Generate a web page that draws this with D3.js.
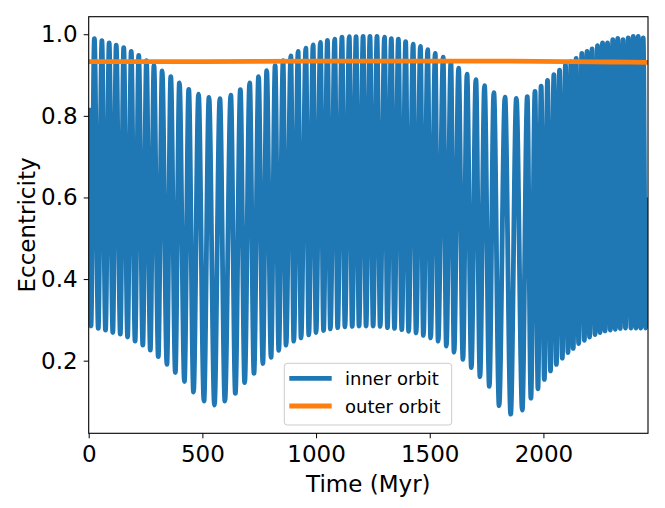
<!DOCTYPE html>
<html>
<head>
<meta charset="utf-8">
<script src="https://cdn.jsdelivr.net/npm/d3@7"></script>
<style>
  html, body { margin: 0; padding: 0; background: #fff; }
  svg { display: block; font-family: "DejaVu Sans", sans-serif; }
</style>
</head>
<body>
<div id="chart"></div>
<script>
// ═══════════════════════════════════════════════════════════
// DATA (Myr / eccentricity)
// ═══════════════════════════════════════════════════════════
const innerStart = [0, 0.82];
const innerEnd   = [2460, 0.60];

const peakTimes = [
  25, 58, 90, 121, 154, 187, 220, 254, 287, 323,
  361, 399, 440, 483, 529, 577, 625, 667, 708, 747,
  783, 820, 855, 889, 921, 955, 987, 1019, 1050, 1082,
  1114, 1146, 1176, 1207, 1237, 1268, 1301, 1331, 1362, 1394,
  1427, 1459, 1491, 1524, 1559, 1593, 1627, 1664, 1703, 1741,
  1782, 1831, 1881, 1929, 1963, 1990, 2018, 2046, 2071, 2097,
  2121, 2144, 2169, 2192, 2214, 2238, 2260, 2282, 2305, 2327,
  2350, 2373, 2395, 2417, 2439
];
const peakValues = [
  0.989, 0.984, 0.979, 0.973, 0.967, 0.958, 0.948, 0.935, 0.923, 0.910,
  0.896, 0.881, 0.865, 0.853, 0.845, 0.842, 0.851, 0.864, 0.881, 0.896,
  0.911, 0.923, 0.935, 0.947, 0.958, 0.966, 0.974, 0.980, 0.985, 0.988,
  0.993, 0.994, 0.994, 0.995, 0.995, 0.995, 0.993, 0.989, 0.988, 0.982,
  0.976, 0.970, 0.962, 0.953, 0.944, 0.932, 0.917, 0.902, 0.889, 0.874,
  0.857, 0.846, 0.843, 0.847, 0.860, 0.873, 0.887, 0.901, 0.912, 0.925,
  0.933, 0.941, 0.953, 0.958, 0.964, 0.972, 0.979, 0.979, 0.987, 0.990,
  0.987, 0.991, 0.995, 0.995, 0.991
];

const troughTimes = [
  10, 42, 74, 106, 139, 171, 204, 238, 271, 306,
  344, 381, 421, 461, 507, 553, 599, 645, 686, 727,
  766, 802, 836, 868, 902, 934, 968, 1000, 1033, 1063,
  1095, 1127, 1159, 1189, 1220, 1251, 1282, 1314, 1345, 1377,
  1407, 1440, 1472, 1504, 1537, 1573, 1607, 1646, 1683, 1721,
  1762, 1805, 1856, 1907, 1945, 1976, 2004, 2031, 2057, 2083,
  2108, 2131, 2155, 2180, 2203, 2227, 2249, 2271, 2294, 2316,
  2338, 2361, 2385, 2407, 2428, 2450
];
const troughValues = [
  0.285, 0.279, 0.275, 0.269, 0.265, 0.258, 0.248, 0.238, 0.226, 0.210,
  0.191, 0.171, 0.149, 0.123, 0.101, 0.091, 0.101, 0.120, 0.146, 0.169,
  0.193, 0.208, 0.225, 0.238, 0.248, 0.256, 0.263, 0.269, 0.274, 0.278,
  0.281, 0.283, 0.284, 0.285, 0.285, 0.285, 0.284, 0.281, 0.279, 0.276,
  0.272, 0.268, 0.262, 0.256, 0.248, 0.236, 0.221, 0.203, 0.183, 0.161,
  0.137, 0.090, 0.069, 0.079, 0.108, 0.131, 0.154, 0.175, 0.191, 0.206,
  0.220, 0.230, 0.242, 0.250, 0.258, 0.264, 0.269, 0.273, 0.275, 0.277,
  0.279, 0.280, 0.280, 0.280, 0.280, 0.280
];

const outerTimes  = [0, 500, 1000, 1500, 1800, 2100, 2300, 2460];
const outerValues = [0.933, 0.933, 0.934, 0.934, 0.934, 0.933, 0.932, 0.931];

const xTicks = [0, 500, 1000, 1500, 2000];
const yTicks = [0.2, 0.4, 0.6, 0.8, 1.0];

const seriesNames  = ['inner orbit', 'outer orbit'];
const seriesColors = ['#1f77b4', '#ff7f0e'];

// ═══════════════════════════════════════════════════════════
// LAYOUT
// ═══════════════════════════════════════════════════════════
const width  = 665;
const height = 508;
const plot   = { left: 88.7, right: 648, top: 16.7, bottom: 433.3 };

const x = d3.scaleLinear().domain([0, 2460]).range([plot.left, plot.right]);
const y = d3.scaleLinear().domain([0.022, 1.043]).range([plot.bottom, plot.top]);

// merge extrema into one time-ordered series
const innerSeries = [innerStart]
  .concat(peakTimes.map((t, i) => [t, peakValues[i]]))
  .concat(troughTimes.map((t, i) => [t, troughValues[i]]))
  .concat([innerEnd])
  .sort((a, b) => a[0] - b[0]);
const outerSeries = outerTimes.map((t, i) => [t, outerValues[i]]);

const svg = d3.select('#chart')
  .append('svg')
  .attr('width', width)
  .attr('height', height);

svg.append('defs').append('clipPath')
  .attr('id', 'plot-clip')
  .append('rect')
  .attr('x', plot.left)
  .attr('y', plot.top)
  .attr('width', plot.right - plot.left)
  .attr('height', plot.bottom - plot.top);

// ═══════════════════════════════════════════════════════════
// LINES
// ═══════════════════════════════════════════════════════════
const line = d3.line()
  .x(d => x(d[0]))
  .y(d => y(d[1]))
  .curve(d3.curveMonotoneX);

const lines = svg.append('g').attr('clip-path', 'url(#plot-clip)');

lines.append('path')
  .datum(innerSeries)
  .attr('d', line)
  .attr('fill', 'none')
  .attr('stroke', seriesColors[0])
  .attr('stroke-width', 4.8)
  .attr('stroke-linejoin', 'round')
  .attr('stroke-linecap', 'butt');

lines.append('path')
  .datum(outerSeries)
  .attr('d', line)
  .attr('fill', 'none')
  .attr('stroke', seriesColors[1])
  .attr('stroke-width', 4.8);

// ═══════════════════════════════════════════════════════════
// AXES
// ═══════════════════════════════════════════════════════════
const xAxis = svg.append('g')
  .attr('transform', `translate(0,${plot.bottom})`)
  .call(d3.axisBottom(x).tickValues(xTicks).tickFormat(d3.format('d')).tickSize(5).tickPadding(7.5));

const yAxis = svg.append('g')
  .attr('transform', `translate(${plot.left},0)`)
  .call(d3.axisLeft(y).tickValues(yTicks).tickFormat(d3.format('.1f')).tickSize(5).tickPadding(6));

[xAxis, yAxis].forEach(ax => {
  ax.select('.domain').remove();
  ax.selectAll('line').attr('stroke', '#000').attr('stroke-width', 1);
  ax.selectAll('text')
    .attr('fill', '#000')
    .style('font-size', '23px')
    .style('font-family', '"DejaVu Sans", sans-serif');
});

// frame
svg.append('rect')
  .attr('x', plot.left)
  .attr('y', plot.top)
  .attr('width', plot.right - plot.left)
  .attr('height', plot.bottom - plot.top)
  .attr('fill', 'none')
  .attr('stroke', '#000')
  .attr('stroke-width', 1.1);

svg.append('text')
  .attr('x', (plot.left + plot.right) / 2)
  .attr('y', 491.8)
  .attr('text-anchor', 'middle')
  .style('font-size', '23px')
  .text('Time (Myr)');

svg.append('text')
  .attr('transform', `translate(35,${(plot.top + plot.bottom) / 2}) rotate(-90)`)
  .attr('text-anchor', 'middle')
  .style('font-size', '23px')
  .text('Eccentricity');

// ═══════════════════════════════════════════════════════════
// LEGEND
// ═══════════════════════════════════════════════════════════
const legend = svg.append('g').attr('transform', 'translate(284.3,363.3)');

legend.append('rect')
  .attr('width', 167.4)
  .attr('height', 61.7)
  .attr('rx', 3)
  .attr('fill', '#fff')
  .attr('fill-opacity', 0.8)
  .attr('stroke', '#cccccc')
  .attr('stroke-width', 1);

seriesNames.forEach((name, i) => {
  const row = legend.append('g').attr('transform', `translate(0,${15 + i * 27.7})`);
  row.append('line')
    .attr('x1', 5).attr('x2', 47.4)
    .attr('stroke', seriesColors[i])
    .attr('stroke-width', 4.8);
  row.append('text')
    .attr('x', 60.7)
    .attr('y', 6.7)
    .style('font-size', '18px')
    .text(name);
});
</script>
</body>
</html>
